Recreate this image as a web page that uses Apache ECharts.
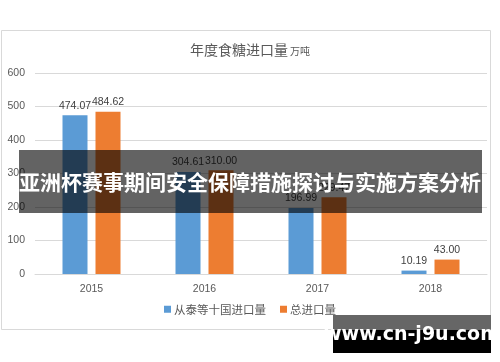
<!DOCTYPE html>
<html><head><meta charset="utf-8">
<script src="https://cdn.jsdelivr.net/npm/echarts@6/dist/echarts.min.js"></script>
<style>html,body{margin:0;padding:0;background:#fff}#c{width:500px;height:362px}</style>
</head><body><div id="c"></div>
<script>
const years = ['2015', '2016', '2017', '2018'];
const tenCountries = [474.07, 304.61, 196.99, 10.19];
const totalImports = [484.62, 310.00, 229.47, 43.00];
const seriesNames = ['从泰等十国进口量', '总进口量'];
const yTicks = [0, 100, 200, 300, 400, 500, 600];

const chart = echarts.init(document.getElementById('c'), null, {renderer: 'canvas'});
const labelCfg = {show: true, position: 'top', distance: 4, color: '#404040', fontSize: 10.5,
  fontFamily: 'Liberation Sans, Arial, sans-serif', formatter: p => p.value.toFixed(2)};
chart.setOption({
  animation: false,
  backgroundColor: '#fff',
  title: {
    text: '{a|年度食糖进口量}{b|万吨}', left: 'center', top: 38,
    textStyle: {fontWeight: 'normal', rich: {
      a: {fontSize: 14, color: '#595959', fontWeight: 'normal', fontFamily: 'Noto Sans CJK SC'},
      b: {fontSize: 10, color: '#595959', fontWeight: 'normal', fontFamily: 'Noto Sans CJK SC', padding: [3, 0, 0, 2]}
    }}
  },
  legend: {
    data: seriesNames, bottom: 42, left: 'center', itemWidth: 7, itemHeight: 7, itemGap: 14,
    icon: 'rect',
    textStyle: {fontSize: 11.5, color: '#595959', fontFamily: 'Noto Sans CJK SC', padding: [0, 0, 0, -2]}
  },
  grid: {left: 35, right: 13, top: 73, bottom: 88, containLabel: false},
  xAxis: {
    type: 'category', data: years,
    axisLine: {lineStyle: {color: '#d9d9d9'}}, axisTick: {show: false},
    axisLabel: {color: '#595959', fontSize: 10.5, margin: 10, fontFamily: 'Liberation Sans, Arial, sans-serif'}
  },
  yAxis: {
    type: 'value', min: yTicks[0], max: yTicks[yTicks.length - 1], interval: 100,
    axisLine: {show: false}, axisTick: {show: false},
    splitLine: {lineStyle: {color: '#d9d9d9'}},
    axisLabel: {color: '#595959', fontSize: 10.5, margin: 10, fontFamily: 'Liberation Sans, Arial, sans-serif'}
  },
  series: [
    {name: seriesNames[0], type: 'bar', data: tenCountries, barWidth: 25, barGap: '32%',
     itemStyle: {color: '#5b9bd5'}, label: labelCfg},
    {name: seriesNames[1], type: 'bar', data: totalImports, barWidth: 25,
     itemStyle: {color: '#ed7d31'}, label: labelCfg}
  ],
  graphic: [
    {type: 'rect', shape: {x: 1.5, y: 30.5, width: 489, height: 299}, z: -10, silent: true,
     style: {fill: 'none', stroke: '#d9d9d9', lineWidth: 1}},
    {type: 'rect', shape: {x: 19, y: 150, width: 463, height: 63}, z: 100,
     style: {fill: 'rgba(0,0,0,0.61)'}},
    {type: 'text', x: 250, y: 182, z: 101,
     style: {text: '亚洲杯赛事期间安全保障措施探讨与实施方案分析', fill: '#fff', fontSize: 21, fontWeight: 'bold',
       fontFamily: 'Noto Sans CJK SC', align: 'center', verticalAlign: 'middle'}},
    {type: 'rect', shape: {x: 333, y: 315, width: 158, height: 15}, z: 100, style: {fill: '#666666'}},
    {type: 'rect', shape: {x: 333, y: 330, width: 158, height: 23}, z: 100, style: {fill: '#000000'}},
    {type: 'text', x: 412, y: 335, z: 101,
     style: {text: 'www.cn-j9u.com', fill: '#fff', fontSize: 19, fontWeight: 'bold',
       fontFamily: 'DejaVu Sans, sans-serif', align: 'center', verticalAlign: 'middle'}}
  ]
});
</script></body></html>
